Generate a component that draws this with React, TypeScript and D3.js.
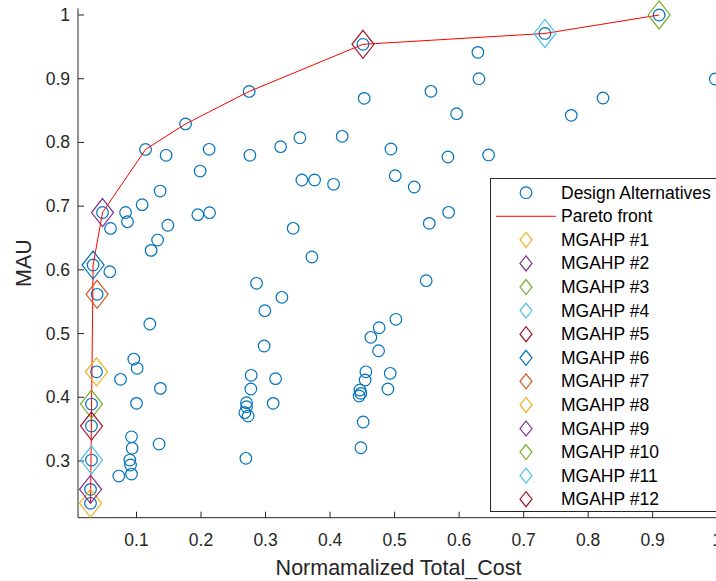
import React from 'react';
import * as d3 from 'd3';

// design alternatives (normalized total cost, MAU)
const altCost = [
  0.0287, 0.0327, 0.0473, 0.114, 0.176, 0.2746, 0.451, 0.733, 0.91,
  0.0389, 0.038, 0.0302, 0.0302, 0.0302, 0.0287,
  0.0597, 0.083, 0.086, 0.1087, 0.1366, 0.1459, 0.1485, 0.1326, 0.1226, 0.1986,
  0.2126, 0.195, 0.2132, 0.2757, 0.3233, 0.3532, 0.3563, 0.376, 0.4188, 0.4054,
  0.3428, 0.3718, 0.286, 0.0586, 0.4529, 0.6291, 0.6307, 0.5563, 0.5961, 0.7738,
  0.823, 0.997, 0.4943, 0.5827, 0.6457, 0.501, 0.5304, 0.5837, 0.5537, 0.549,
  0.1206, 0.3253, 0.2989, 0.2978, 0.0958, 0.101, 0.0752, 0.137, 0.1, 0.0922,
  0.0932, 0.0896, 0.0907, 0.0922, 0.0726, 0.135, 0.2777, 0.3155, 0.2772, 0.2705,
  0.2705, 0.2679, 0.273, 0.3118, 0.2695, 0.4555, 0.4543, 0.4462, 0.4477, 0.4451,
  0.4513, 0.4477, 0.502, 0.4761, 0.4632, 0.4752, 0.4932, 0.4896,
];
const altMau = [
  0.2336, 0.6076, 0.69, 0.789, 0.829, 0.88, 0.954, 0.971, 1.0,
  0.5616, 0.44, 0.3894, 0.3549, 0.3015, 0.2555,
  0.665, 0.69, 0.6756, 0.7023, 0.7237, 0.7798, 0.67, 0.6468, 0.6306, 0.7551,
  0.7892, 0.6866, 0.6897, 0.7798, 0.7933, 0.8074, 0.741, 0.741, 0.8096, 0.7343,
  0.6652, 0.6202, 0.5789, 0.5971, 0.8692, 0.9414, 0.9, 0.8802, 0.8451, 0.8425,
  0.8697, 0.8995, 0.7897, 0.7771, 0.7803, 0.7478, 0.73, 0.6903, 0.673, 0.583,
  0.515, 0.5569, 0.5359, 0.4805, 0.46, 0.4455, 0.4282, 0.414, 0.3905, 0.338,
  0.32, 0.3015, 0.2937, 0.2795, 0.2764, 0.3266, 0.4345, 0.4292, 0.413, 0.3915,
  0.3852, 0.3758, 0.3706, 0.3905, 0.3042, 0.44, 0.4271, 0.4114, 0.4062, 0.402,
  0.3612, 0.3208, 0.5224, 0.5092, 0.4941, 0.473, 0.4376, 0.413,
];

// pareto front
const paretoCost = [0.0287, 0.0327, 0.0473, 0.114, 0.176, 0.2746, 0.451, 0.733, 0.91];
const paretoMau = [0.2336, 0.6076, 0.69, 0.789, 0.829, 0.88, 0.954, 0.971, 1.0];

// MGAHP picks #1..#12
const mgahpCost = [0.0287, 0.0473, 0.91, 0.733, 0.451, 0.0327, 0.0389, 0.038, 0.0287, 0.0302, 0.0302, 0.0302];
const mgahpMau = [0.2336, 0.69, 1.0, 0.971, 0.954, 0.6076, 0.5616, 0.44, 0.2555, 0.3894, 0.3015, 0.3549];
const mgahpLabels = mgahpCost.map((_, i) => `MGAHP #${i + 1}`);

const xTicks = [0.1, 0.2, 0.3, 0.4, 0.5, 0.6, 0.7, 0.8, 0.9, 1];
const yTicks = [0.3, 0.4, 0.5, 0.6, 0.7, 0.8, 0.9, 1];

// matlab default color order, skipping the first two (scatter + line)
const palette = ['#EDB120', '#7E2F8E', '#77AC30', '#4DBEEE', '#A2142F', '#0072BD', '#D95319'];

const W = 716;
const H = 581;
const axisColor = '#262626';
const font = '"Liberation Sans", Arial, Helvetica, sans-serif';

const diamond = (cx: number, cy: number, hw: number, hh: number) =>
  d3.line().curve(d3.curveLinearClosed)([
    [cx, cy - hh],
    [cx + hw, cy],
    [cx, cy + hh],
    [cx - hw, cy],
  ]) as string;

export default function App() {
  const x = d3.scaleLinear().domain([0.0093, 1.0028]).range([78, 719]);
  const y = d3.scaleLinear().domain([0.211, 1.0105]).range([517.7, 8.3]);

  const [x0, x1] = x.range();
  const [yb, yt] = y.range();

  const pareto = d3
    .line<number>()
    .x((d) => x(d))
    .y((_, i) => y(paretoMau[i]))(paretoCost) as string;

  const legendTop = 178.5;
  const rowY = (i: number) => 192.7 + i * 23.58;

  return (
    <svg
      width={W}
      height={H}
      style={{ position: 'absolute', left: 0, top: 0, background: '#fff' }}
      fontFamily={font}
    >
      {/* axes */}
      <line x1={x0} x2={x1} y1={yb} y2={yb} stroke={axisColor} strokeWidth={1} />
      <line x1={x0} x2={x0} y1={yb} y2={yt} stroke={axisColor} strokeWidth={1} />
      {yTicks.map((t) => (
        <g key={'y' + t}>
          <line x1={x0} x2={x0 + 6} y1={y(t)} y2={y(t)} stroke={axisColor} />
          <text
            x={70}
            y={y(t)}
            textAnchor="end"
            dominantBaseline="central"
            fontSize={17.5}
            fill={axisColor}
          >
            {String(t)}
          </text>
        </g>
      ))}
      {xTicks.map((t) => (
        <g key={'x' + t}>
          <line x1={x(t)} x2={x(t)} y1={yb} y2={yb - 6} stroke={axisColor} />
          <text
            x={x(t)}
            y={540}
            textAnchor="middle"
            dominantBaseline="central"
            fontSize={17.5}
            fill={axisColor}
          >
            {String(t)}
          </text>
        </g>
      ))}
      <text
        x={(x0 + x1) / 2}
        y={568}
        textAnchor="middle"
        dominantBaseline="central"
        fontSize={21.5}
        fill={axisColor}
      >
        Normamalized Total_Cost
      </text>
      <text
        transform={`translate(23.5,${(yb + yt) / 2}) rotate(-90)`}
        textAnchor="middle"
        dominantBaseline="central"
        fontSize={21.5}
        fill={axisColor}
      >
        MAU
      </text>

      {/* design alternatives */}
      {altCost.map((c, i) => (
        <circle
          key={'a' + i}
          cx={x(c)}
          cy={y(altMau[i])}
          r={5.8}
          fill="none"
          stroke="#0072BD"
          strokeWidth={1.2}
        />
      ))}

      {/* pareto front */}
      <path d={pareto} fill="none" stroke="#FF0000" strokeWidth={1} />

      {/* MGAHP picks */}
      {mgahpCost.map((c, i) => (
        <path
          key={'m' + i}
          d={diamond(x(c), y(mgahpMau[i]), 11, 14)}
          fill="none"
          stroke={palette[i % palette.length]}
          strokeWidth={1.2}
        />
      ))}

      {/* legend */}
      <rect
        x={490.5}
        y={legendTop}
        width={300}
        height={333}
        fill="#fff"
        stroke={axisColor}
        strokeWidth={1}
      />
      <circle cx={526} cy={rowY(0)} r={5.8} fill="none" stroke="#0072BD" strokeWidth={1.2} />
      <text x={561} y={rowY(0)} dominantBaseline="central" fontSize={17.5} fill="#000">
        Design Alternatives
      </text>
      <line x1={496} x2={556} y1={rowY(1)} y2={rowY(1)} stroke="#FF0000" strokeWidth={1} />
      <text x={561} y={rowY(1)} dominantBaseline="central" fontSize={17.5} fill="#000">
        Pareto front
      </text>
      {mgahpLabels.map((lab, i) => (
        <g key={'l' + i}>
          <path
            d={diamond(526, rowY(i + 2), 6, 7.5)}
            fill="none"
            stroke={palette[i % palette.length]}
            strokeWidth={1.2}
          />
          <text x={561} y={rowY(i + 2)} dominantBaseline="central" fontSize={17.5} fill="#000">
            {lab}
          </text>
        </g>
      ))}
    </svg>
  );
}
